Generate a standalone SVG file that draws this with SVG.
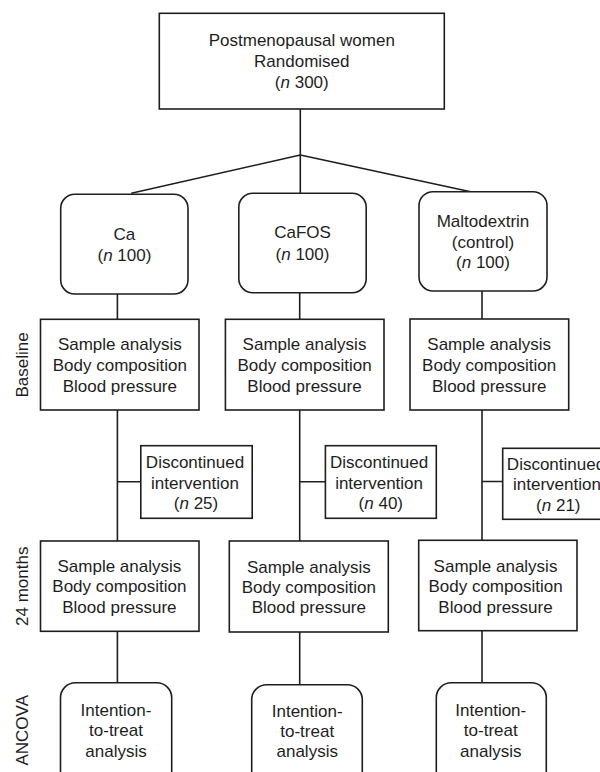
<svg xmlns="http://www.w3.org/2000/svg" width="600" height="772" viewBox="0 0 600 772">
<style>
  .box{fill:#fff;stroke:#1e1e1e;stroke-width:1.6}
  .ln{fill:none;stroke:#1e1e1e;stroke-width:1.6}
  text{font-family:"Liberation Sans",Arial,sans-serif;font-size:17px;fill:#1e1e1e;text-anchor:middle}
  .i{font-style:italic}
</style>
<rect width="600" height="772" fill="#fff"/>
<g id="connectors">
  <path class="ln" d="M300.3,109 V155 M300.3,155 L131.3,193.3 M300.3,155 L470.7,191.7 M300.3,155 V193.3"/>
  <path class="ln" d="M117.4,294 V319.3 M117.4,410 V541 M117.4,481.7 H140.8 M117.4,631.3 V682.7"/>
  <path class="ln" d="M299.7,292.7 V319.3 M299.7,410 V541 M299.7,481.7 H325.4 M299.7,632 V684.7"/>
  <path class="ln" d="M482,291 V319 M482,410 V540 M482,481.5 H502.7 M482,630.7 V682.7"/>
</g>
<g id="labels">
  <text transform="translate(28,365) rotate(-90)">Baseline</text>
  <text transform="translate(27.5,586.3) rotate(-90)">24 months</text>
  <text transform="translate(28,730.3) rotate(-90)">ANCOVA</text>
</g>
<g id="top">
  <rect class="box" x="159.3" y="13.3" width="285" height="95.7"/>
  <text x="301.8" y="46">Postmenopausal women</text>
  <text x="301.8" y="67">Randomised</text>
  <text x="301.8" y="88">(<tspan class="i">n</tspan> 300)</text>
</g>
<g id="ca">
  <rect class="box" x="60.7" y="194.3" width="127.3" height="99.7" rx="14"/>
  <text x="124.4" y="240.3">Ca</text>
  <text x="124.4" y="261">(<tspan class="i">n</tspan> 100)</text>
</g>
<g id="cafos">
  <rect class="box" x="238.8" y="193.3" width="127.4" height="99.4" rx="14"/>
  <text x="302.5" y="238.3">CaFOS</text>
  <text x="302.5" y="260">(<tspan class="i">n</tspan> 100)</text>
</g>
<g id="malto">
  <rect class="box" x="419" y="191.7" width="128" height="99.3" rx="14"/>
  <text x="483" y="227.3">Maltodextrin</text>
  <text x="483" y="248">(control)</text>
  <text x="483" y="268.3">(<tspan class="i">n</tspan> 100)</text>
</g>
<g id="base1">
  <rect class="box" x="40.5" y="319.3" width="158.5" height="90.7"/>
  <text x="119.8" y="350.3">Sample analysis</text>
  <text x="119.8" y="371">Body composition</text>
  <text x="119.8" y="391.7">Blood pressure</text>
</g>
<g id="base2">
  <rect class="box" x="225.4" y="319.3" width="158.6" height="90.7"/>
  <text x="304.5" y="350.3">Sample analysis</text>
  <text x="304.5" y="371">Body composition</text>
  <text x="304.5" y="391.7">Blood pressure</text>
</g>
<g id="base3">
  <rect class="box" x="410" y="319" width="158.7" height="91"/>
  <text x="489.2" y="350.3">Sample analysis</text>
  <text x="489.2" y="371">Body composition</text>
  <text x="489.2" y="391.7">Blood pressure</text>
</g>
<g id="disc1">
  <rect class="box" x="140.8" y="445.7" width="111.4" height="72.6"/>
  <text x="195" y="467.7">Discontinued</text>
  <text x="195" y="488.7">intervention</text>
  <text x="196" y="509.3">(<tspan class="i">n</tspan> 25)</text>
</g>
<g id="disc2">
  <rect class="box" x="325.4" y="445.7" width="110.9" height="72.6"/>
  <text x="379.1" y="467.7">Discontinued</text>
  <text x="379.1" y="488.7">intervention</text>
  <text x="380.8" y="509.3">(<tspan class="i">n</tspan> 40)</text>
</g>
<g id="disc3">
  <rect class="box" x="502.7" y="448.3" width="112" height="71"/>
  <text x="556" y="470.3">Discontinued</text>
  <text x="557" y="490.3">intervention</text>
  <text x="558.3" y="511">(<tspan class="i">n</tspan> 21)</text>
</g>
<g id="m24a">
  <rect class="box" x="40.5" y="541" width="158.5" height="90.3"/>
  <text x="119.4" y="571.7">Sample analysis</text>
  <text x="119.4" y="592">Body composition</text>
  <text x="119.4" y="612.7">Blood pressure</text>
</g>
<g id="m24b">
  <rect class="box" x="229.3" y="541" width="159" height="91"/>
  <text x="308.8" y="572.7">Sample analysis</text>
  <text x="308.8" y="592.7">Body composition</text>
  <text x="308.8" y="613.3">Blood pressure</text>
</g>
<g id="m24c">
  <rect class="box" x="418.7" y="540.3" width="158.3" height="90.4"/>
  <text x="495.5" y="571.7">Sample analysis</text>
  <text x="495.5" y="592">Body composition</text>
  <text x="495.5" y="612.7">Blood pressure</text>
</g>
<g id="itt1">
  <rect class="box" x="60.5" y="682.7" width="111.2" height="110" rx="15"/>
  <text x="116" y="716">Intention-</text>
  <text x="116" y="736">to-treat</text>
  <text x="116" y="756.5">analysis</text>
</g>
<g id="itt2">
  <rect class="box" x="251.7" y="684.7" width="110.6" height="110" rx="15"/>
  <text x="307.2" y="716.5">Intention-</text>
  <text x="307.2" y="737">to-treat</text>
  <text x="307.2" y="757">analysis</text>
</g>
<g id="itt3">
  <rect class="box" x="436.3" y="682.7" width="110" height="110" rx="15"/>
  <text x="490.8" y="716">Intention-</text>
  <text x="490.8" y="736">to-treat</text>
  <text x="490.8" y="756.5">analysis</text>
</g>
</svg>
